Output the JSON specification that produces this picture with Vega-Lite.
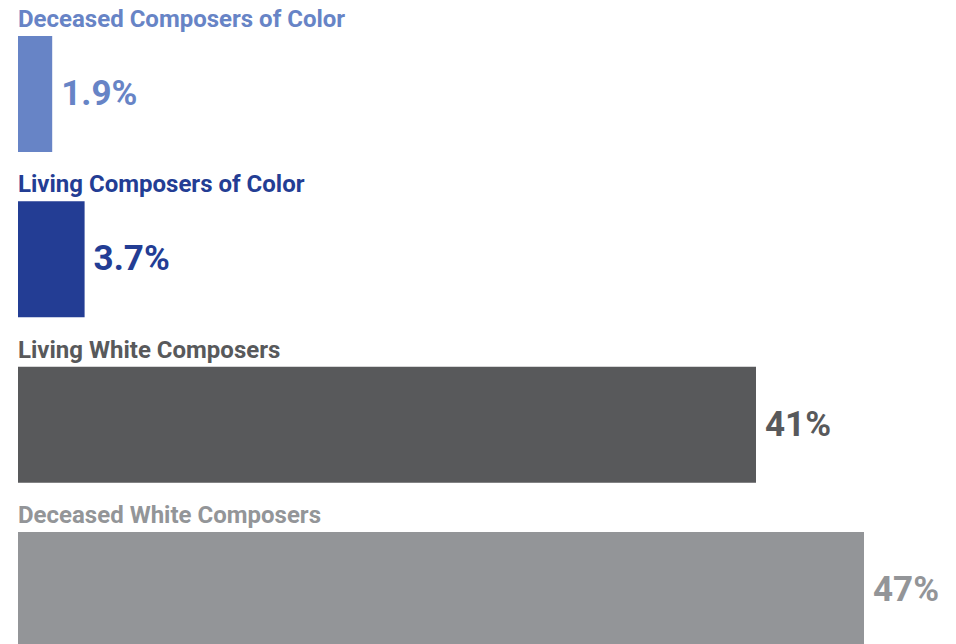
{
  "$schema": "https://vega.github.io/schema/vega-lite/v6.json",
  "width": 936,
  "height": 612,
  "autosize": {"type": "none"},
  "padding": {"left": 18, "top": 36, "right": 0, "bottom": 0},
  "background": "white",
  "config": {"view": {"stroke": null}, "font": "Roboto"},
  "data": {
    "values": [
      {"group": "Deceased Composers of Color", "value": 1.9, "label": "1.9%"},
      {"group": "Living Composers of Color", "value": 3.7, "label": "3.7%"},
      {"group": "Living White Composers", "value": 41, "label": "41%"},
      {"group": "Deceased White Composers", "value": 47, "label": "47%"}
    ]
  },
  "encoding": {
    "y": {
      "field": "group",
      "type": "nominal",
      "sort": null,
      "axis": null,
      "scale": {"paddingInner": 0.2984, "paddingOuter": 0}
    },
    "color": {
      "field": "group",
      "type": "nominal",
      "legend": null,
      "scale": {
        "domain": ["Deceased Composers of Color", "Living Composers of Color", "Living White Composers", "Deceased White Composers"],
        "range": ["#6784c6", "#233d94", "#58595b", "#939598"]
      }
    }
  },
  "layer": [
    {
      "mark": {"type": "bar"},
      "encoding": {
        "x": {"field": "value", "type": "quantitative", "axis": null, "scale": {"domain": [0, 52], "nice": false, "zero": true}}
      }
    },
    {
      "mark": {"type": "text", "align": "left", "baseline": "middle", "dx": 9, "fontSize": 35, "fontWeight": "bold", "font": "Roboto"},
      "encoding": {
        "x": {"field": "value", "type": "quantitative"},
        "text": {"field": "label"}
      }
    },
    {
      "mark": {"type": "text", "align": "left", "baseline": "alphabetic", "dy": -9, "fontSize": 24, "fontWeight": "bold", "font": "Roboto"},
      "encoding": {
        "x": {"datum": 0},
        "y": {"field": "group", "type": "nominal", "sort": null, "bandPosition": 0},
        "text": {"field": "group"}
      }
    }
  ]
}
